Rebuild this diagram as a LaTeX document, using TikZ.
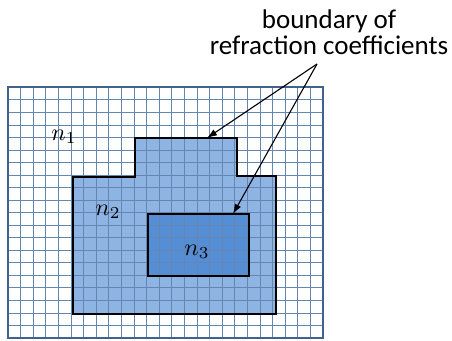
\documentclass[tikz,border=0pt]{standalone}
\usepackage{graphicx}
\usepackage{fontspec}
\setmainfont{Carlito}
\usetikzlibrary{arrows.meta}
\definecolor{gridc}{HTML}{6686B2}
\definecolor{framec}{HTML}{41628E}
\definecolor{ntwo}{HTML}{8EB4E3}
\definecolor{nthree}{HTML}{558ED5}
\newcommand{\nlab}[1]{\scalebox{2.4}{$n_{#1}$}}
\tikzset{
  bnd/.style={draw=black, line width=2pt, line join=miter},
  gridline/.style={draw=gridc, line width=0.8pt},
  lbl/.style={inner sep=0pt},
  ptr/.style={draw=black, line width=1.1pt, -{Latex[length=10pt,width=7pt]}},
}
\begin{document}
\begin{tikzpicture}[x=1pt,y=-1pt]
\useasboundingbox (0,0) rectangle (452,340);
\fill[white] (0,0) rectangle (452,340);
% region n2
\fill[ntwo] (73,314) -- (73,177) -- (135,177) -- (135,138) -- (237,138) -- (237,176) -- (276,176) -- (276,314) -- cycle;
% region n3
\fill[nthree] (148,214) rectangle (249,276);
% grid 25 x 20
\foreach \i in {1,...,24} {
  \draw[gridline] ({8+\i*12.6},87.3) -- ({8+\i*12.6},338);
}
\foreach \j in {1,...,19} {
  \draw[gridline] (8,{87.3+\j*12.535}) -- (323,{87.3+\j*12.535});
}
\draw[draw=framec, line width=2pt] (8,87.3) rectangle (323,338);
% boundaries
\draw[bnd] (73,314) -- (73,177) -- (135,177) -- (135,138) -- (237,138) -- (237,176) -- (276,176) -- (276,314) -- cycle;
\draw[bnd] (148,214) rectangle (249,276);
% labels
\node[lbl] (n1) at (64,137) {\nlab{1}};
\node[lbl] (n2) at (108,212) {\nlab{2}};
\node[lbl] (n3) at (197,252) {\nlab{3}};
\node[align=center, font=\fontsize{27}{26}\selectfont, inner sep=0pt, anchor=north] (txt) at (329,10) {boundary of\\refraction coefficients};
\coordinate (src) at (317,64);
\coordinate (t1) at (207,138);
\coordinate (t2) at (233,214);
\draw[ptr] (src) -- (t1);
\draw[ptr] (src) -- (t2);
\end{tikzpicture}
\end{document}
